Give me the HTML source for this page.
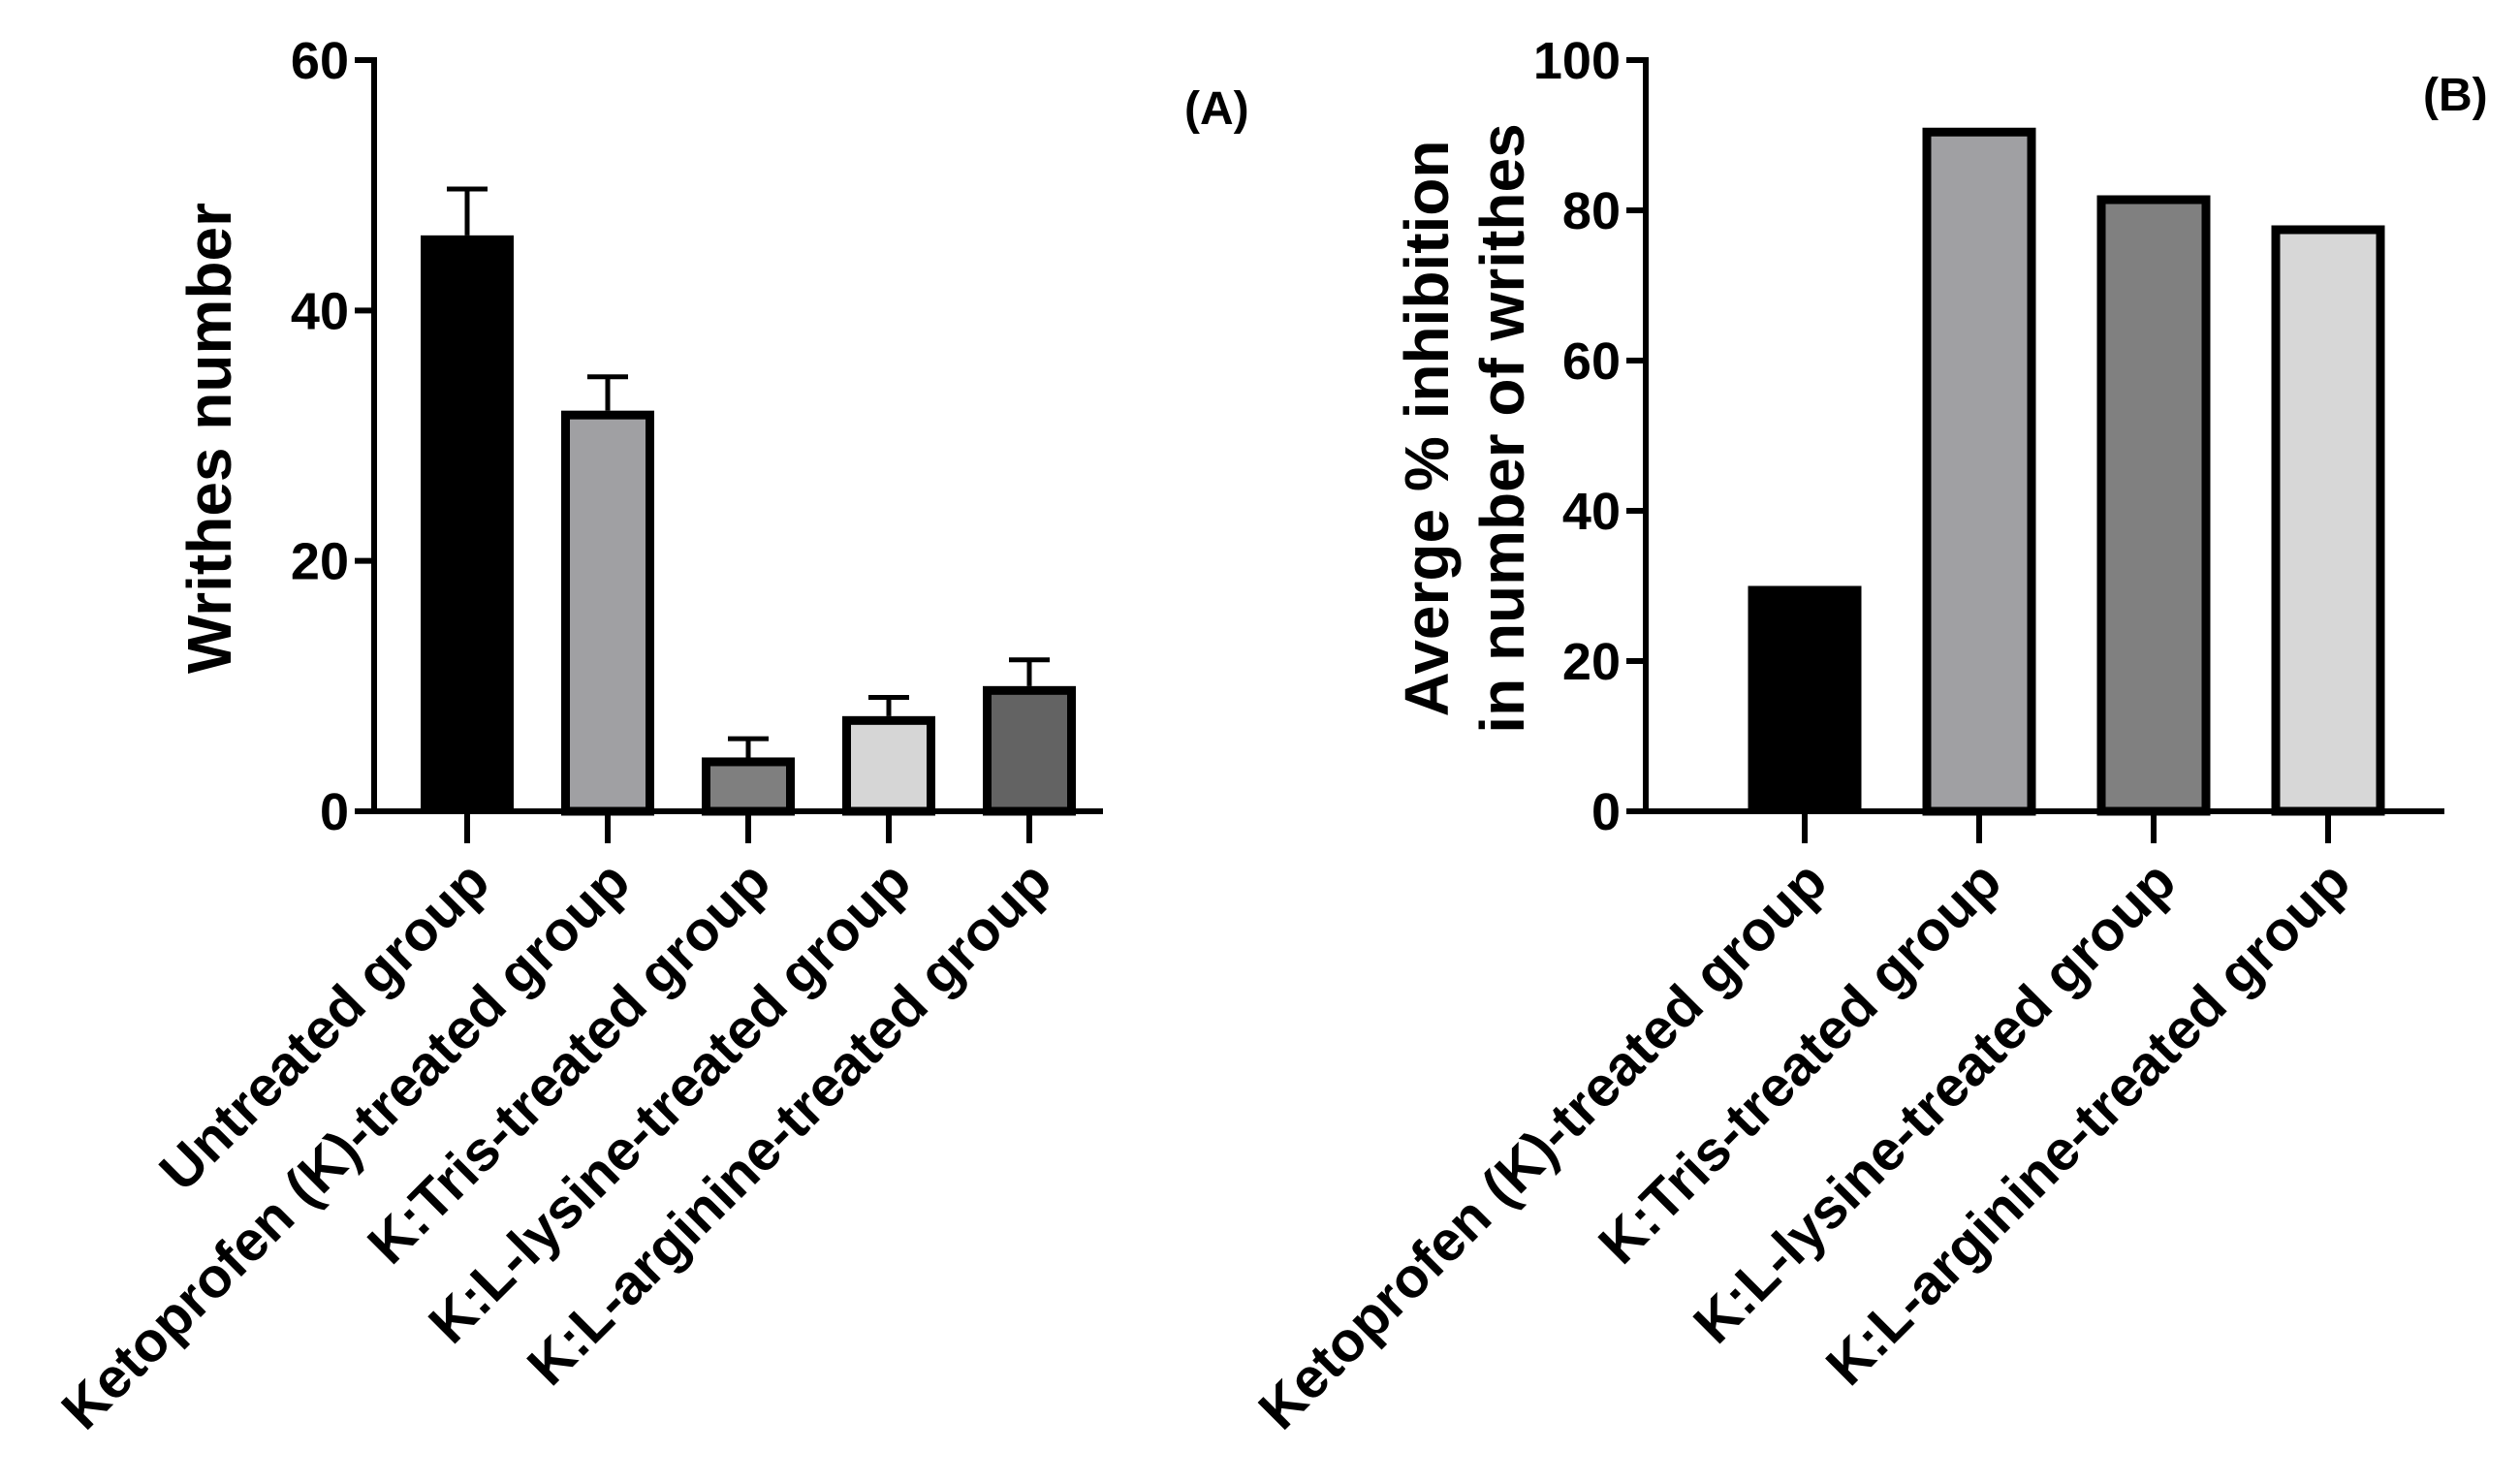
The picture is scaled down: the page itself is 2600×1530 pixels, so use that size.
<!DOCTYPE html>
<html><head><meta charset="utf-8"><style>
html,body{margin:0;padding:0;background:#fff;}
svg{display:block;font-family:"Liberation Sans",Arial,sans-serif;font-weight:bold;}
</style></head>
<body>
<svg id="c" width="2600" height="1530" viewBox="0 0 2600 1530">
<text x="1222" y="128" font-size="48">(A)</text>
<text x="2500" y="114" font-size="48">(B)</text>
<text transform="translate(238,452) rotate(-90)" text-anchor="middle" font-size="64">Writhes number</text>
<text transform="translate(1494,442) rotate(-90)" text-anchor="middle" font-size="64">Averge % inhibition</text>
<text transform="translate(1572,442) rotate(-90)" text-anchor="middle" font-size="64">in number of writhes</text>
</svg>
<script>
const catsA = ["Untreated group","Ketoprofen (K)-treated group","K:Tris-treated group","K:L-lysine-treated group","K:L-arginine-treated group"];
const valsA = [46, 32, 4.3, 7.6, 10];
const errA = [3.7, 2.7, 1.5, 1.5, 2.1];
const ticksA = [0, 20, 40, 60];
const catsB = ["Ketoprofen (K)-treated group","K:Tris-treated group","K:L-lysine-treated group","K:L-arginine-treated group"];
const valsB = [30, 91, 82, 78];
const ticksB = [0, 20, 40, 60, 80, 100];
const fillsA = ["#000000","#a0a0a3","#7f7f7f","#d6d6d6","#636363"];
const fillsB = ["#000000","#a0a0a3","#808080","#d7d7d7"];

const svg = document.getElementById('c');
const NS = "http://www.w3.org/2000/svg";
function mk(tag, attrs){const e=document.createElementNS(NS,tag);for(const k in attrs)e.setAttribute(k,attrs[k]);svg.appendChild(e);return e;}

function panel(p){
  const y = v => p.y0 - (v/p.max)*(p.y0-p.yTop);
  const x = i => p.x0c + i*p.step;
  p.cats.forEach((c,i)=>{
    const v=p.vals[i], t=y(v), bw=p.bw;
    const r=mk('rect',{x:x(i)-bw/2+(i?4.5:0),y:t+(i?4.5:0),width:bw-(i?9:0),height:p.y0-t-(i?4.5:0),fill:p.fills[i],stroke:i?'#000':'none','stroke-width':i?9:0});
    
    
    if(p.err){
      const e=y(v+p.err[i]);
      const l=mk('path',{d:`M${x(i)} ${t} V${e} M${x(i)-21} ${e} H${x(i)+21}`,stroke:'#000','stroke-width':5,fill:'none'});
      
      
    }
    const tk=mk('line',{x1:x(i),x2:x(i),y1:p.y0,y2:p.y0+33,stroke:'#000','stroke-width':6});
    
    
    const tx=mk('text',{'text-anchor':'end','font-size':58,transform:`translate(${x(i)+26},${p.y0+76}) rotate(-45)`});
    tx.textContent=c;
    
    
  });
  const ya=mk('line',{x1:p.ax,x2:p.ax,y1:p.yTop-3,y2:p.y0+3,stroke:'#000','stroke-width':6});
  
  
  const xa=mk('line',{x1:p.xs,x2:p.xe,y1:p.y0,y2:p.y0,stroke:'#000','stroke-width':6});
  
  
  p.ticks.forEach(v=>{
    const l=mk('line',{x1:p.ax-20,x2:p.ax,y1:y(v),y2:y(v),stroke:'#000','stroke-width':6});
    
    
    const t=mk('text',{x:p.ax-26,y:y(v)+19,'text-anchor':'end','font-size':54});
    t.textContent=v;
    
    
  });
}
panel({id:'panel-a',cats:catsA,vals:valsA,err:errA,ticks:ticksA,fills:fillsA,max:60,y0:837,yTop:62,ax:386,xs:370,xe:1138,x0c:482,step:145,bw:96});
panel({id:'panel-b',cats:catsB,vals:valsB,err:null,ticks:ticksB,fills:fillsB,max:100,y0:837,yTop:62,ax:1698,xs:1687,xe:2522,x0c:1862,step:180,bw:117});
</script>
</body></html>
